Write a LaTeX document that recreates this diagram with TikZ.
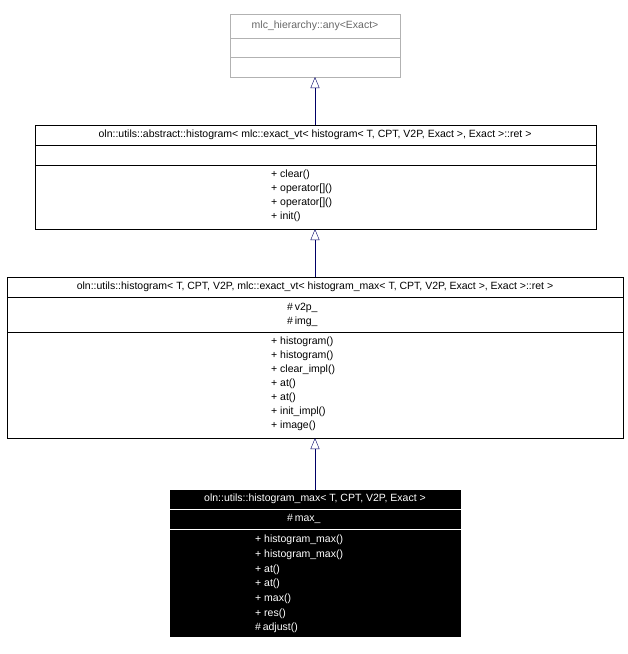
\documentclass[tikz,border=0pt]{standalone}
\usepackage{fontspec}
\setmainfont{Liberation Sans}
\begin{document}
\begin{tikzpicture}[x=1pt,y=-1pt,
  txt/.style={font=\fontsize{10.5}{12}\selectfont,inner sep=0pt,anchor=west},
  ttl/.style={font=\fontsize{10.5}{12}\selectfont,inner sep=0pt},
  inh/.style={draw=blue!40!black,-{Triangle[open,length=11pt,width=9pt]}}]
\usetikzlibrary{arrows.meta}
\useasboundingbox (0,0) rectangle (628,654);
% box 1
\draw[gray!60] (230,14) rectangle (400,77);
\draw[gray!60] (230,38) -- (400,38) (230,57) -- (400,57);
\node[ttl,text=gray!80!black] (t1) at (315,26) {mlc\_hierarchy::any<Exact>};
\coordinate (b1) at (315,77);
% box 2
\draw (35,125) rectangle (596,229);
\draw (35,145) -- (596,145) (35,165) -- (596,165);
\node[ttl] (t2) at (315,135) {oln::utils::abstract::histogram< mlc::exact\_vt< histogram< T, CPT, V2P, Exact >, Exact >::ret >};
\foreach \t [count=\i] in {+ clear(),+ operator[](),+ operator[](),+ init()}
  \node[txt] (m2\i) at (271,161+14*\i) {\t};
\coordinate (b2) at (315,229); \coordinate (u2) at (315,125);
% box 3
\draw (7,277) rectangle (623,438);
\draw (7,297) -- (623,297) (7,332) -- (623,332);
\node[ttl] (t3) at (315,287) {oln::utils::histogram< T, CPT, V2P, mlc::exact\_vt< histogram\_max< T, CPT, V2P, Exact >, Exact >::ret >};
\node[txt] (a31) at (287,308) {\#\,v2p\_};
\node[txt] (a32) at (287,322) {\#\,img\_};
\foreach \t [count=\i] in {+ histogram(),+ histogram(),+ clear\_impl(),+ at(),+ at(),+ init\_impl(),+ image()}
  \node[txt] (m3\i) at (271,328+14*\i) {\t};
\coordinate (b3) at (315,438); \coordinate (u3) at (315,277);
% box 4
\fill (170,490) rectangle (461,637);
\draw[white] (170,509) -- (461,509) (170,529) -- (461,529);
\node[ttl,text=white] (t4) at (315,499) {oln::utils::histogram\_max< T, CPT, V2P, Exact >};
\node[txt,text=white] (a41) at (287,519) {\#\,max\_};
\foreach \t [count=\i] in {+ histogram\_max(),+ histogram\_max(),+ at(),+ at(),+ max(),+ res(),\#\,adjust()}
  \node[txt,text=white] (m4\i) at (255,525.3+14.67*\i) {\t};
\coordinate (u4) at (315,490);
% inheritance
\draw[inh] (u2) -- (b1);
\draw[inh] (u3) -- (b2);
\draw[inh] (u4) -- (b3);
\end{tikzpicture}
\end{document}
